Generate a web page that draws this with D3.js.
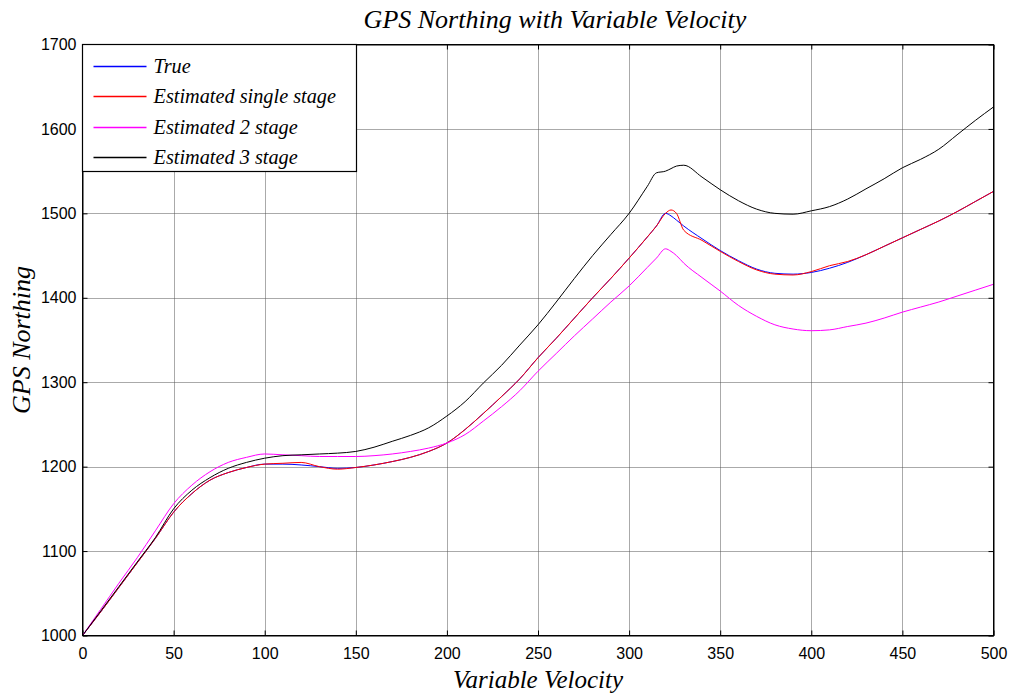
<!DOCTYPE html>
<html>
<head>
<meta charset="utf-8">
<script src="https://cdn.jsdelivr.net/npm/d3@7"></script>
<style>
  body { margin: 0; background: #fff; }
  svg { display: block; }
</style>
</head>
<body>
<svg id="chart"></svg>
<script>
(() => {
// sample positions along the x axis
let xs = [0, 10, 20, 30, 40, 50, 60, 70, 80, 90, 100, 110, 120, 130, 140, 150, 160, 170, 180, 190,
  200, 210, 220, 230, 240, 250, 260, 270, 280, 290, 300, 310, 315, 320, 323, 326, 330, 340, 350,
  360, 370, 380, 390, 400, 410, 420, 430, 440, 450, 460, 470, 480, 490, 500];

let trueVals = [1000, 1028, 1057, 1086, 1115, 1146, 1168, 1184, 1193, 1199, 1203, 1203, 1202, 1200, 1198, 1199, 1202, 1206, 1211, 1218,
  1228, 1244, 1263, 1283, 1304, 1329, 1352, 1376, 1400, 1423, 1447, 1472, 1485, 1500, 1497, 1492, 1485, 1470, 1456,
  1444, 1434, 1429, 1428, 1430, 1435, 1442, 1451, 1461, 1471, 1481, 1491, 1502, 1514, 1526];

let singleVals = [1000, 1028, 1057, 1086, 1115, 1146, 1168, 1184, 1193, 1199, 1203, 1204, 1205, 1200, 1197, 1199, 1202, 1206, 1211, 1218,
  1228, 1244, 1263, 1283, 1304, 1329, 1352, 1376, 1400, 1423, 1447, 1472, 1485, 1500, 1504, 1500, 1480, 1468, 1455,
  1443, 1433, 1428, 1427, 1431, 1438, 1443, 1451, 1461, 1471, 1481, 1491, 1502, 1514, 1526];

let twoStageVals = [1000, 1031, 1062, 1092, 1124, 1156, 1178, 1194, 1205, 1211, 1215, 1214, 1213, 1212, 1212, 1212, 1213, 1215, 1218, 1222,
  1228, 1238, 1254, 1271, 1290, 1313, 1334, 1355, 1375, 1395, 1414, 1436, 1447, 1458, 1455, 1450, 1441, 1424, 1408,
  1391, 1378, 1368, 1363, 1361, 1362, 1366, 1370, 1376, 1383, 1389, 1395, 1402, 1409, 1416];

let threeStageVals = [1000, 1029, 1058, 1087, 1116, 1150, 1172, 1187, 1198, 1205, 1210, 1213, 1214, 1215, 1216, 1218, 1223, 1230, 1237, 1246,
  1260, 1277, 1299, 1320, 1344, 1368, 1395, 1423, 1450, 1475, 1500, 1532, 1548, 1550, 1553, 1556, 1557, 1543, 1528,
  1515, 1505, 1500, 1499, 1503, 1508, 1517, 1529, 1541, 1554, 1564, 1576, 1593, 1610, 1626];

let seriesNames = ['True', 'Estimated single stage', 'Estimated 2 stage', 'Estimated 3 stage'];
let seriesColors = ['#0000ff', '#ff0000', '#ff00ff', '#000000'];
let seriesVals = [trueVals, singleVals, twoStageVals, threeStageVals];

let xTicks = [0, 50, 100, 150, 200, 250, 300, 350, 400, 450, 500];
let yTicks = [1000, 1100, 1200, 1300, 1400, 1500, 1600, 1700];

let svgWidth = 1013,
    svgHeight = 696,
    left = 82.5,
    right = 993.5,
    top = 44.5,
    bottom = 635.5,
    tickLen = 5;

let svg = d3.select('#chart')
    .attr('width', svgWidth)
    .attr('height', svgHeight);

let xScale = d3.scaleLinear()
    .domain([0, 500])
    .range([left, right]);

let yScale = d3.scaleLinear()
    .domain([1000, 1700])
    .range([bottom, top]);

// grid
let grid = svg.append('g')
    .attr('stroke', '#555')
    .attr('stroke-width', 1)
    .attr('stroke-dasharray', '1,1');

grid.selectAll('.vgrid')
    .data(xTicks.slice(1, -1))
    .enter()
    .append('line')
    .attr('x1', d => Math.round(xScale(d)) + 0.5)
    .attr('x2', d => Math.round(xScale(d)) + 0.5)
    .attr('y1', top)
    .attr('y2', bottom);

grid.selectAll('.hgrid')
    .data(yTicks.slice(1, -1))
    .enter()
    .append('line')
    .attr('y1', d => Math.round(yScale(d)) + 0.5)
    .attr('y2', d => Math.round(yScale(d)) + 0.5)
    .attr('x1', left)
    .attr('x2', right);

// axes with inward ticks, labels on bottom/left
let xAxis = d3.axisBottom(xScale)
    .tickValues(xTicks)
    .tickSizeInner(-tickLen)
    .tickSizeOuter(0)
    .tickPadding(12);

let yAxis = d3.axisLeft(yScale)
    .tickValues(yTicks)
    .tickSizeInner(-tickLen)
    .tickSizeOuter(0)
    .tickPadding(6)
    .tickFormat(d3.format('d'));

let gx = svg.append('g')
    .attr('transform', `translate(0,${bottom})`)
    .call(xAxis);

let gy = svg.append('g')
    .attr('transform', `translate(${left},0)`)
    .call(yAxis);

svg.append('g')
    .attr('transform', `translate(0,${top})`)
    .call(d3.axisTop(xScale).tickValues(xTicks).tickSizeInner(-tickLen).tickSizeOuter(0).tickFormat(''));

svg.append('g')
    .attr('transform', `translate(${right},0)`)
    .call(d3.axisRight(yScale).tickValues(yTicks).tickSizeInner(-tickLen).tickSizeOuter(0).tickFormat(''));

svg.selectAll('.domain').attr('stroke', '#000');
svg.selectAll('.tick line').attr('stroke', '#000');
svg.selectAll('.tick text')
    .attr('fill', '#000')
    .style('font-family', 'Liberation Sans, Arial, sans-serif')
    .style('font-size', '16px');

// lines
let line = vals => d3.line()
    .x((d, i) => xScale(xs[i]))
    .y(d => yScale(d))
    .curve(d3.curveMonotoneX)(vals);

svg.append('g')
    .selectAll('path')
    .data(seriesVals)
    .enter()
    .append('path')
    .attr('d', d => line(d))
    .attr('fill', 'none')
    .attr('stroke', (d, i) => seriesColors[i])
    .attr('stroke-width', 1);

// box
svg.append('rect')
    .attr('x', left)
    .attr('y', top)
    .attr('width', right - left)
    .attr('height', bottom - top)
    .attr('fill', 'none')
    .attr('stroke', '#000')
    .attr('stroke-width', 1);

// legend
let legend = svg.append('g');
legend.append('rect')
    .attr('x', left)
    .attr('y', top)
    .attr('width', 274)
    .attr('height', 127)
    .attr('fill', '#fff')
    .attr('stroke', '#000')
    .attr('stroke-width', 1.2);

let items = legend.selectAll('.item')
    .data(seriesNames)
    .enter()
    .append('g')
    .attr('transform', (d, i) => `translate(${left},${Math.round(top + 21 + i * 30.5) + 0.5})`);

items.append('line')
    .attr('x1', 11)
    .attr('x2', 64)
    .attr('stroke', (d, i) => seriesColors[i])
    .attr('stroke-width', 1.3);

items.append('text')
    .attr('x', 71)
    .attr('dy', '0.33em')
    .text(d => d)
    .style('font-family', 'Liberation Serif, Times New Roman, serif')
    .style('font-style', 'italic')
    .style('font-size', '20.3px');

// titles
let serif = 'Liberation Serif, Times New Roman, serif';
svg.append('text')
    .attr('x', 555)
    .attr('y', 28)
    .attr('text-anchor', 'middle')
    .style('font-family', serif)
    .style('font-style', 'italic')
    .style('font-size', '26px')
    .text('GPS Northing with Variable Velocity');

svg.append('text')
    .attr('x', (left + right) / 2)
    .attr('y', 688)
    .attr('text-anchor', 'middle')
    .style('font-family', serif)
    .style('font-style', 'italic')
    .style('font-size', '25px')
    .text('Variable Velocity');

svg.append('text')
    .attr('transform', `translate(30,${(top + bottom) / 2}) rotate(-90)`)
    .attr('text-anchor', 'middle')
    .style('font-family', serif)
    .style('font-style', 'italic')
    .style('font-size', '26px')
    .text('GPS Northing');
})();
</script>
</body>
</html>
